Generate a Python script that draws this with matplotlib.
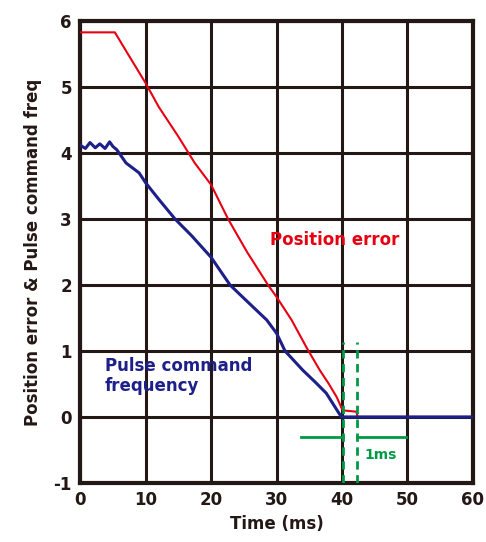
import matplotlib.pyplot as plt

plt.rcParams['axes.unicode_minus'] = False

# Position error curve (ms, value)
pos_t = [0, 5.3, 7, 10, 12, 15, 17.5, 20, 22.6, 25.5, 28.7, 30, 32.3, 34.6, 36.6, 38, 39.2, 40.1, 42.2, 42.4, 60]
pos_v = [5.83, 5.83, 5.55, 5.06, 4.7, 4.25, 3.85, 3.52, 3.0, 2.5, 2.0, 1.82, 1.47, 1.05, 0.71, 0.5, 0.3, 0.1, 0.08, 0.0, 0.0]

# Pulse command frequency curve
pul_t = [0, 0.8, 1.5, 2.3, 3.0, 3.8, 4.5, 5.0, 5.6, 7, 9, 10, 12, 14.5, 17, 20, 22.9, 25, 28.5, 30, 31.3, 34.0, 36, 37.6, 39.9, 60]
pul_v = [4.12, 4.07, 4.16, 4.08, 4.14, 4.07, 4.17, 4.1, 4.05, 3.85, 3.7, 3.55, 3.3, 3.0, 2.75, 2.42, 2.0, 1.8, 1.47, 1.27, 1.0, 0.71, 0.52, 0.36, 0.0, 0.0]

# 1 ms marker
mark_x = [40.2, 42.3]
arrow_y = -0.3

red = '#e60012'
navy = '#1d2088'
green = '#009944'
dark = '#231815'

fig = plt.figure(figsize=(4.86, 5.42), dpi=100)
ax = fig.add_axes([0.165, 0.109, 0.808, 0.852])

ax.plot(pos_t, pos_v, color=red, lw=1.5, zorder=4)
ax.plot(pul_t, pul_v, color=navy, lw=2.2, zorder=5)

for x in mark_x:
    ax.plot([x, x], [-1, 1.13], color=green, lw=2, ls=(0, (3, 2)), zorder=6)
ax.plot([33.8, mark_x[0]], [arrow_y, arrow_y], color=green, lw=2, zorder=6)
ax.plot([mark_x[1], 49.8], [arrow_y, arrow_y], color=green, lw=2, zorder=6)
ax.text(43.4, -0.58, '1ms', color=green, fontsize=10, fontweight='bold', va='center')

ax.text(29, 2.68, 'Position error', color=red, fontsize=12, fontweight='bold', va='center')
ax.text(3.8, 0.62, 'Pulse command\nfrequency', color=navy, fontsize=12, fontweight='bold',
        va='center', linespacing=1.1)

ax.set_xlim(0, 60)
ax.set_ylim(-1, 6)
ax.set_xticks(range(0, 61, 10))
ax.set_yticks(range(-1, 7))
ax.grid(True, color=dark, lw=2.2)
ax.set_axisbelow(True)
ax.tick_params(length=0, labelsize=12, pad=6, colors=dark)
for lab in ax.get_xticklabels() + ax.get_yticklabels():
    lab.set_fontweight('bold')
for s in ax.spines.values():
    s.set_linewidth(3)
    s.set_color(dark)

ax.set_xlabel('Time (ms)', fontsize=12, fontweight='bold', color=dark, labelpad=4)
ax.set_ylabel('Position error & Pulse command freq', fontsize=12, fontweight='bold',
              color=dark, labelpad=8)

fig.savefig('out.png', dpi=100)
